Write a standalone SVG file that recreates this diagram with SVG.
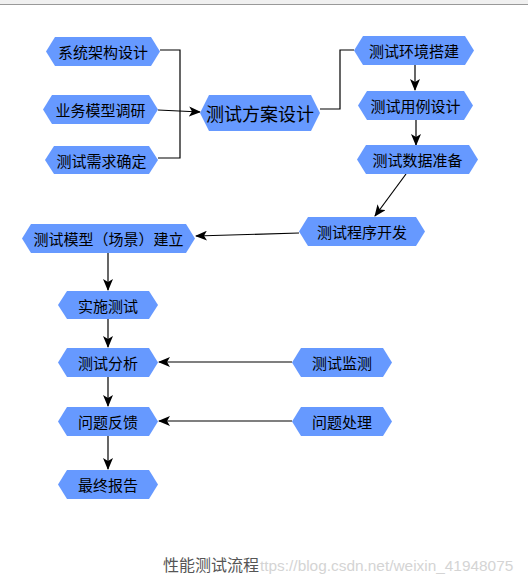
<svg xmlns="http://www.w3.org/2000/svg" width="528" height="582" viewBox="0 0 528 582">
<style>
.n{fill:#6699FF;stroke:none}
.t{font-family:"Noto Sans CJK SC","Liberation Sans",sans-serif;font-size:15px;fill:#000;text-anchor:middle;dominant-baseline:central}
.c{fill:none;stroke:#000;stroke-width:1.2}
</style>
<defs>
<marker id="a" viewBox="0 0 12 10" refX="11" refY="5" markerWidth="12" markerHeight="10" markerUnits="userSpaceOnUse" orient="auto">
<path d="M0,0 L12,5 L0,10 L3,5 z" fill="#000"/>
</marker>
</defs>
<rect x="0" y="0" width="528" height="4" fill="#f0f0f0"/>
<line x1="0" y1="4.5" x2="528" y2="4.5" stroke="#999" stroke-width="1"/>
<g id="connectors">
<path class="c" d="M160,50 H180 V158 H158"/>
<path class="c" d="M158,110 L200,112" marker-end="url(#a)"/>
<path class="c" d="M320,109 H340 V50 H354"/>
<path class="c" d="M415,65 V90" marker-end="url(#a)"/>
<path class="c" d="M416,120 V145" marker-end="url(#a)"/>
<path class="c" d="M406,174 L375,216" marker-end="url(#a)"/>
<path class="c" d="M299,233 L196,236" marker-end="url(#a)"/>
<path class="c" d="M108,253 V290" marker-end="url(#a)"/>
<path class="c" d="M108,319 V347" marker-end="url(#a)"/>
<path class="c" d="M292,362 H159" marker-end="url(#a)"/>
<path class="c" d="M108,377 V406" marker-end="url(#a)"/>
<path class="c" d="M292,421 H159" marker-end="url(#a)"/>
<path class="c" d="M108,436 V469" marker-end="url(#a)"/>
</g>
<g id="n1"><polygon class="n" points="46,51.5 55,37 151,37 160,51.5 151,66 55,66"/><text class="t" x="103" y="51.5">系统架构设计</text></g>
<g id="n2"><polygon class="n" points="43,109.5 52,95 149,95 158,109.5 149,124 52,124"/><text class="t" x="100.5" y="109.5">业务模型调研</text></g>
<g id="n3"><polygon class="n" points="45,160 54,146 149,146 158,160 149,174 54,174"/><text class="t" x="101.5" y="160">测试需求确定</text></g>
<g id="n4"><polygon class="n" points="200,113 209,95 311,95 320,113 311,131 209,131"/><text class="t" x="260" y="113" style="font-size:18px">测试方案设计</text></g>
<g id="n5"><polygon class="n" points="354,50.5 363,36 465,36 474,50.5 465,65 363,65"/><text class="t" x="414" y="50.5">测试环境搭建</text></g>
<g id="n6"><polygon class="n" points="358,105.5 367,91 464,91 473,105.5 464,120 367,120"/><text class="t" x="415.5" y="105.5">测试用例设计</text></g>
<g id="n7"><polygon class="n" points="357,159.5 366,145 469,145 478,159.5 469,174 366,174"/><text class="t" x="417.5" y="159.5">测试数据准备</text></g>
<g id="n8"><polygon class="n" points="299,231.5 308,217 416,217 425,231.5 416,246 308,246"/><text class="t" x="362" y="231.5">测试程序开发</text></g>
<g id="n9"><polygon class="n" points="22,238.5 31,224 186,224 195,238.5 186,253 31,253"/><text class="t" x="108.5" y="238.5">测试模型（场景）建立</text></g>
<g id="n10"><polygon class="n" points="58,305 67,291 149,291 158,305 149,319 67,319"/><text class="t" x="108" y="305">实施测试</text></g>
<g id="n11"><polygon class="n" points="58,362.5 67,348 149,348 158,362.5 149,377 67,377"/><text class="t" x="108" y="362.5">测试分析</text></g>
<g id="n12"><polygon class="n" points="292,362.5 301,348 383,348 392,362.5 383,377 301,377"/><text class="t" x="342" y="362.5">测试监测</text></g>
<g id="n13"><polygon class="n" points="58,421.5 67,407 149,407 158,421.5 149,436 67,436"/><text class="t" x="108" y="421.5">问题反馈</text></g>
<g id="n14"><polygon class="n" points="292,421.5 301,407 383,407 392,421.5 383,436 301,436"/><text class="t" x="342" y="421.5">问题处理</text></g>
<g id="n15"><polygon class="n" points="58,484.5 67,470 149,470 158,484.5 149,499 67,499"/><text class="t" x="108" y="484.5">最终报告</text></g>
<text x="260" y="571" font-family="Liberation Sans, Arial, sans-serif" font-size="15.4" fill="#d4d4d4">ttps://blog.csdn.net/weixin_41948075</text>
<text x="163" y="571" font-family="Noto Sans CJK SC, Liberation Sans, sans-serif" font-size="16" fill="#555">性能测试流程</text>
</svg>
